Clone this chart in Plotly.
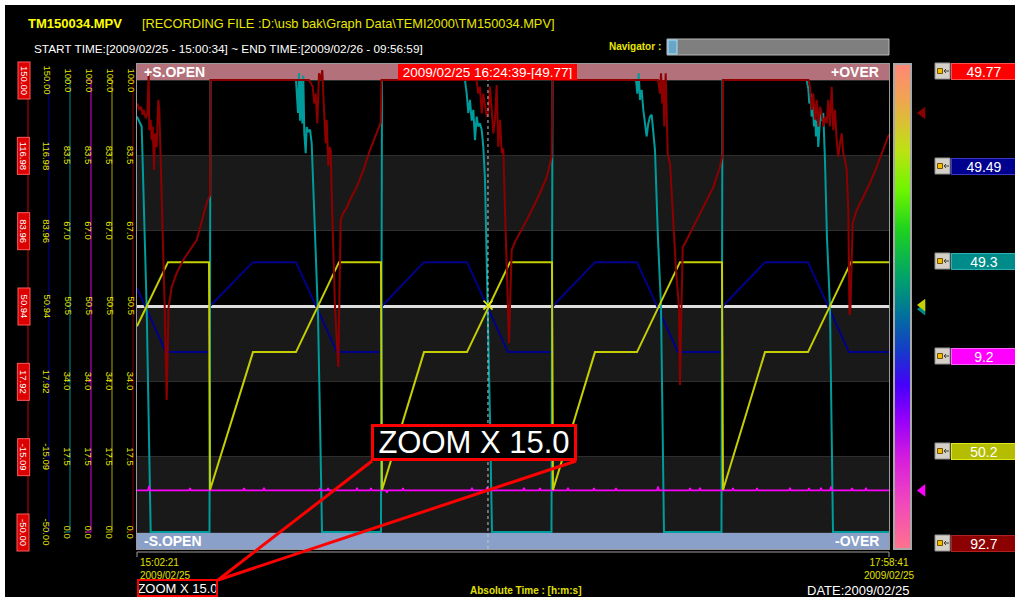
import plotly.graph_objects as go

W, H = 1015, 597


def fx(px):
    return px / W


def fy(py):
    return (H - py) / H


def hms(s):
    h, m, sec = (int(p) for p in s.split(":"))
    return h * 60 + m + sec / 60


# ---------------- meta / labels ----------------
FILE_NAME = "TM150034.MPV"
RECORDING_FILE = r"[RECORDING FILE :D:\usb bak\Graph Data\TEMI2000\TM150034.MPV]"
START_TIME = "2009/02/25 - 15:00:34"
END_TIME = "2009/02/26 - 09:56:59"
VIEW_DATE = "2009/02/25"
VIEW_START = "15:02:21"
VIEW_END = "17:58:41"
CURSOR_TIME = "16:24:39"
ZOOM_FACTOR = 15.0

CH_MIN = [-50, -50, 0, 0, 0, 0]
CH_MAX = [150, 150, 100, 100, 100, 100]
CURSOR_VALUES = [49.77, 49.49, 49.3, 9.2, 50.2, 92.7]

CH1_TICKS = ["150.00", "116.98", "83.96", "50.94", "17.92", "-15.09", "-50.00"]
CH2_TICKS = ["150.00", "116.98", "83.96", "50.94", "17.92", "-15.09", "-50.00"]
PCT_TICKS = ["100.0", "83.5", "67.0", "50.5", "34.0", "17.5", "0.0"]

LEG_COLORS = ["#ff0000", "#00008e", "#008b8b", "#ff00ff", "#b5bd00", "#8b0000"]
LEG_BORDERS = ["#ff5050", "#3a3ac8", "#30b0b0", "#ff60ff", "#e0e820", "#b02020"]
LINE_COLORS = ["#dedede", "#00008c", "#009c9c", "#ff00ff", "#c6cf00", "#8e0000"]
AXIS_COLORS = ["#c80000", "#0000a0", "#009090", "#e000e0", "#a8a800", "#800000"]

# ---------------- series (time in minutes from view start) ----------------
CH1_T = [0, 30, 60, 90, 120, 150, 176.33]
CH1_V = [49.8, 49.75, 49.8, 49.77, 49.8, 49.75, 49.8]

CH2_T = [0, 6.80, 16.88, 17.12, 27.20, 37.28, 46.90, 57.21, 57.45, 67.30, 77.38, 86.99,
         97.31, 97.54, 107.39, 117.24, 126.85, 137.17, 137.41, 147.26, 157.34, 166.95, 176.33]
CH2_V = [57.8, 29.6, 29.6, 50.0, 69.4, 69.4, 29.6, 29.6, 50.0, 69.4, 69.4, 29.6,
         29.6, 50.0, 69.4, 69.4, 29.6, 29.6, 50.0, 69.4, 69.4, 29.6, 29.6]

CH3_T = [0, 1.10, 2.27, 3.21, 17.00, 17.23,
         37.28, 37.52, 37.75, 37.99, 38.22, 38.45, 38.76, 38.99, 39.23, 39.56, 39.79, 40.17,
         40.57, 40.96, 41.50, 42.44, 42.91, 43.38,
         57.21, 57.45,
         76.91, 77.31, 77.68, 78.08, 78.48, 78.86, 79.25, 79.65, 80.03, 80.43, 80.82, 81.20,
         81.60, 82.30, 82.77, 83.24,
         97.19, 97.43,
         117.01, 117.31, 117.64, 117.94, 118.34, 118.72, 119.12, 119.51, 119.89, 120.29,
         120.69, 121.06, 121.46, 122.16, 122.87, 123.22, 123.57,
         137.05, 137.29,
         157.03, 157.41, 157.64, 157.97, 158.20, 158.44, 158.74, 158.98, 159.21, 159.52,
         159.75, 159.99, 160.31, 160.55, 160.92, 161.32, 161.79, 162.49, 162.85, 163.20,
         176.33]
CH3_V = [91.9, 89.7, 49.5, 0, 0, 100,
         100, 96, 92.7, 101.5, 91, 100, 90.4, 101, 88.3, 83.8, 89.6, 88.5,
         89, 86, 72, 48, 25, 0,
         0, 100,
         100, 97, 92.7, 95.6, 91, 93.4, 86.7, 91.9, 89.7, 90.4, 89, 85.2,
         78, 49.3, 25, 0,
         0, 100,
         100, 97, 101.5, 95.6, 97.8, 93.4, 89.7, 87.5, 90.4, 91.9,
         92.3, 88.3, 84.5, 65, 50, 25, 0,
         0, 100,
         100, 98.1, 94.8, 97, 91.9, 95.6, 89.7, 93.4, 87.5, 91,
         85.2, 89.7, 93.4, 91, 92.7, 82.3, 65, 50, 25, 0,
         0]

CH4_T = [0,
         2.58, 2.81, 3.04, 12.20, 12.43, 12.66, 24.86, 25.09, 25.32, 29.55, 29.78, 30.01,
         42.68, 42.91, 43.14, 44.56, 44.79, 45.02, 51.36, 51.59, 51.82, 54.64, 54.87, 55.10,
         58.39, 58.62, 58.85, 62.14, 62.37, 62.60, 78.32, 78.55, 78.78, 81.84, 82.07, 82.30,
         90.51, 90.74, 90.97, 94.27, 94.50, 94.73, 100.83, 101.06, 101.29, 106.93, 107.16, 107.39,
         112.09, 112.32, 112.55, 121.93, 122.16, 122.39, 129.44, 129.67, 129.90, 131.78, 132.01, 132.24,
         139.52, 139.75, 139.98, 145.15, 145.38, 145.61, 152.89, 153.12, 153.35, 157.34, 157.57, 157.80,
         160.15, 160.38, 160.61, 162.50, 162.73, 162.96, 167.42, 167.65, 167.88, 170.71, 170.94, 171.17,
         176.33]
CH4_V = [9.2,
         9.2, 10.2, 9.2, 9.2, 9.7, 9.2, 9.2, 9.7, 9.2, 9.2, 9.8, 9.2,
         9.2, 9.7, 9.2, 9.2, 9.7, 9.2, 9.2, 9.8, 9.2, 9.2, 9.7, 9.2,
         9.2, 8.7, 9.2, 9.2, 9.7, 9.2, 9.2, 9.8, 9.2, 9.2, 9.9, 9.2,
         9.2, 9.8, 9.2, 9.2, 9.7, 9.2, 9.2, 9.8, 9.2, 9.2, 9.7, 9.2,
         9.2, 9.7, 9.2, 9.2, 10.1, 9.2, 9.2, 9.7, 9.2, 9.2, 9.8, 9.2,
         9.2, 9.7, 9.2, 9.2, 9.7, 9.2, 9.2, 9.8, 9.2, 9.2, 9.7, 9.2,
         9.2, 9.8, 9.2, 9.2, 10.1, 9.2, 9.2, 9.7, 9.2, 9.2, 9.8, 9.2,
         9.2]

CH5_T = [0, 7.27, 16.88, 17.12, 27.20, 37.28, 47.37, 57.21, 57.45, 67.30, 77.38, 87.46,
         97.31, 97.54, 107.39, 117.24, 127.32, 137.17, 137.41, 147.26, 157.34, 167.42, 176.33]
CH5_V = [45.5, 59.7, 59.7, 9.3, 39.8, 39.8, 59.7, 59.7, 9.3, 39.8, 39.8, 59.7,
         59.7, 9.3, 39.8, 39.8, 59.7, 59.7, 9.3, 39.8, 39.8, 59.7, 59.7]

CH6_T = [0.07, 0.54, 0.94, 1.34, 1.64, 2.04, 2.42, 2.74, 2.88, 3.21, 3.45, 3.68, 3.99, 4.22,
         4.62, 4.99, 5.23, 5.56, 5.86, 6.17, 6.50, 6.96, 7.39, 8.14, 9.31, 10.86, 14.00, 16.34,
         17.12, 17.23,
         40.33, 40.57, 41.20, 41.57, 41.90, 42.28, 42.68, 43.07, 43.45, 43.85, 44.25, 44.48,
         44.86, 45.09, 45.42, 45.65, 46.03, 46.43, 47.20, 47.48, 47.76, 48.37, 49.17, 49.94,
         51.52, 53.06, 54.63, 56.20, 57.14, 57.33,
         79.49, 79.65, 80.03, 80.43, 80.82, 81.20, 81.60, 82.00, 82.37, 82.77, 83.17, 83.55,
         83.94, 84.34, 84.72, 85.12, 85.52, 85.89, 86.29, 86.69, 87.06, 87.23, 87.46, 87.86,
         88.63, 89.81, 91.38, 92.93, 94.50, 96.07, 97.24, 97.43,
         122.16, 122.24, 122.63, 122.87, 123.17, 123.41, 123.64, 123.97, 124.20, 124.44,
         124.74, 124.98, 125.68, 126.38, 127.09, 127.32, 127.67, 127.96, 128.89, 130.44,
         132.01, 133.58, 135.13, 136.70, 137.29, 137.41,
         157.45, 157.80, 158.20, 158.58, 158.98, 159.37, 159.75, 160.15, 160.55, 160.92,
         161.32, 161.72, 162.10, 162.49, 162.89, 163.27, 163.67, 164.07, 164.44, 164.84,
         165.24, 165.61, 166.01, 166.41, 166.79, 167.07, 167.30, 167.82, 168.76, 170.30,
         171.87, 173.44, 174.99, 176.33]
CH6_V = [94.8, 93.4, 94.1, 92.3, 93.4, 91.5, 92.6, 101.1, 88.9, 91.2, 86.7, 89.7, 80.1, 88.2,
         85.2, 95.6, 93.4, 82.3, 69, 58.7, 49.6, 29.2, 49.6, 54.2, 57.3, 60.2, 64.6, 72.8,
         74.6, 100,
         100, 99.6, 98.5, 94.8, 97, 90.4, 101.5, 100, 102.2, 93.4, 86, 91.2,
         81, 85.2, 84.5, 75, 63.1, 49.6, 36.5, 49.6, 69, 70.6, 71.7, 73.5,
         76.3, 80, 84.5, 88.3, 90.5, 100,
         100, 99.6, 97, 98.5, 92.6, 97, 94.8, 91.9, 93, 98.5, 93.4, 88.2,
         91.2, 98.9, 85.2, 91.2, 83.8, 84.9, 71.2, 60.2, 49.6, 41.8, 49.6, 62.4,
         64.2, 66.2, 69, 71.9, 75, 78.5, 83, 100,
         100, 99.6, 97, 101.5, 94.8, 100, 89.7, 101.5, 93.4, 83.8,
         82.3, 81.6, 70, 58, 49.6, 32.5, 49.6, 63, 64.6, 67.5,
         70.6, 73.5, 76.3, 80.8, 83.4, 100,
         100, 98.5, 93.4, 97, 91.2, 95.6, 89.7, 94.1, 92.6, 89.7,
         91.9, 90.4, 95.6, 89.7, 98.5, 88.9, 93.4, 86.7, 83, 86,
         88.2, 83.8, 82.3, 80.1, 71.2, 48, 49.6, 68.4, 71.2, 74.1,
         77.2, 80.8, 84.5, 88]

SERIES = [(CH1_T, CH1_V), (CH2_T, CH2_V), (CH3_T, CH3_V),
          (CH4_T, CH4_V), (CH5_T, CH5_V), (CH6_T, CH6_V)]

COLORBAR_SCALE = [[0.0, "rgb(255,115,140)"], [0.10, "rgb(240,70,190)"], [0.184, "rgb(215,30,220)"],
                  [0.266, "rgb(150,0,250)"], [0.338, "rgb(70,0,250)"], [0.41, "rgb(20,60,200)"],
                  [0.493, "rgb(0,120,150)"], [0.555, "rgb(0,160,110)"], [0.658, "rgb(30,210,30)"],
                  [0.74, "rgb(110,245,0)"], [0.823, "rgb(190,225,20)"], [0.926, "rgb(240,165,80)"],
                  [1.0, "rgb(255,135,120)"]]


def pct(v, i):
    return (v - CH_MIN[i]) / (CH_MAX[i] - CH_MIN[i]) * 100


WINDOW = hms(VIEW_END) - hms(VIEW_START)
CURSOR = hms(CURSOR_TIME) - hms(VIEW_START)
Y_LO, Y_HI = -3.76, 103.54

fig = go.Figure()

widths = [3, 2, 2, 1.6, 2, 2]
for i, (t, v) in enumerate(SERIES):
    fig.add_trace(go.Scatter(x=t, y=[pct(a, i) for a in v], mode="lines",
                             line=dict(color=LINE_COLORS[i], width=widths[i]),
                             hoverinfo="skip", name=f"CH{i+1}"))

# cursor crosshair marker on CH5
fig.add_trace(go.Scatter(x=[CURSOR], y=[pct(CURSOR_VALUES[4], 4)], mode="markers",
                         marker=dict(symbol="x-thin", size=9, line=dict(color="#e8f000", width=1.5)),
                         hoverinfo="skip"))

# cursor value triangles beside the colour bar
for i in [2, 3, 5, 4]:
    fig.add_trace(go.Scatter(x=[0.5], y=[pct(CURSOR_VALUES[i], i)], mode="markers",
                             xaxis="x2", yaxis="y2",
                             marker=dict(symbol="triangle-left", size=11,
                                         color=LEG_COLORS[i] if i != 4 else "#c8d000",
                                         line=dict(width=0)),
                             hoverinfo="skip"))

# colour bar
fig.add_trace(go.Scatter(x=[None, None], y=[None, None], mode="markers", xaxis="x2", yaxis="y2",
                         marker=dict(color=[0, 1], cmin=0, cmax=1, colorscale=COLORBAR_SCALE, showscale=True,
                                     colorbar=dict(x=fx(894), xanchor="left", y=fy(306.5), yanchor="middle",
                                                   len=485, lenmode="pixels", thickness=17, thicknessmode="pixels",
                                                   outlinecolor="#a8a8a8", outlinewidth=2, showticklabels=False,
                                                   ticks="", xpad=0, ypad=0, borderwidth=0,
                                                   bgcolor="rgba(0,0,0,0)")),
                         hoverinfo="skip"))

shapes = []
annotations = []

# black panel (white strip at top/left edges)
shapes.append(dict(type="rect", xref="paper", yref="paper", x0=fx(5), x1=1.01, y0=-0.01, y1=fy(5),
                   fillcolor="black", line=dict(width=0), layer="below"))

# alternating grid bands
for k in [0, 2, 4]:
    shapes.append(dict(type="rect", xref="x domain", yref="y", x0=0, x1=1, y0=k * 100 / 6, y1=(k + 1) * 100 / 6,
                       fillcolor="#191919", line=dict(width=0), layer="below"))
# over / open bands
shapes.append(dict(type="rect", xref="x domain", yref="y", x0=0, x1=1, y0=100, y1=Y_HI,
                   fillcolor="#b3717b", line=dict(width=0), layer="below"))
shapes.append(dict(type="rect", xref="x domain", yref="y", x0=0, x1=1, y0=Y_LO, y1=0,
                   fillcolor="#8aa0c8", line=dict(width=0), layer="below"))

# cursor line
shapes.append(dict(type="line", xref="x", yref="y domain", x0=CURSOR, x1=CURSOR, y0=0, y1=1,
                   line=dict(color="#c8c8c8", width=1, dash="dot"), layer="above"))

# left axes
AXIS_LINE_X = [28, 49, 70, 91, 112, 133]
AXIS_TEXT_X = [17, 39, 60, 81, 102, 123]
AXIS_TICKS = [CH1_TICKS, CH2_TICKS, PCT_TICKS, PCT_TICKS, PCT_TICKS, PCT_TICKS]
for c in range(6):
    lx = AXIS_LINE_X[c]
    col = AXIS_COLORS[c]
    shapes.append(dict(type="line", xref="paper", yref="y", x0=fx(lx), x1=fx(lx), y0=0, y1=100,
                       line=dict(color=col, width=1)))
    for yv in (0, 100):
        shapes.append(dict(type="line", xref="paper", yref="y", x0=fx(lx - 5), x1=fx(lx), y0=yv, y1=yv,
                           line=dict(color=col, width=1)))
    for k in range(1, 6):
        yv = k * 100 / 6
        shapes.append(dict(type="line", xref="paper", yref="y", x0=fx(lx - 3), x1=fx(lx), y0=yv, y1=yv,
                           line=dict(color=col, width=1)))
    for k, lab in enumerate(AXIS_TICKS[c]):
        yv = 100 - k * 100 / 6
        if c == 0:
            annotations.append(dict(xref="paper", yref="y", x=fx(AXIS_TEXT_X[c]), y=yv, text=lab,
                                    textangle=90, showarrow=False, bgcolor="#dc0000",
                                    bordercolor="#ff5a5a", borderwidth=1, borderpad=0, width=36, height=11,
                                    font=dict(color="white", size=9.5)))
        else:
            annotations.append(dict(xref="paper", yref="y", x=fx(AXIS_TEXT_X[c]), y=yv, text=lab,
                                    textangle=90, showarrow=False,
                                    font=dict(color="#e8e800", size=9.5)))

# band texts
for txt, yv, xa, xp in [("+S.OPEN", (100 + Y_HI) / 2, "left", 142), ("+OVER", (100 + Y_HI) / 2, "right", 881),
                        ("-S.OPEN", Y_LO / 2, "left", 142), ("-OVER", Y_LO / 2, "right", 881)]:
    annotations.append(dict(xref="paper", yref="y", x=fx(xp), y=yv, xanchor=xa, yanchor="middle",
                            text=f"<b>{txt}</b>", showarrow=False, font=dict(color="white", size=14)))

# cursor label
annotations.append(dict(xref="x", yref="y", x=CURSOR, y=(100 + Y_HI) / 2, yanchor="middle",
                        text=f"{VIEW_DATE} {CURSOR_TIME}-[{CURSOR_VALUES[0]}]", showarrow=False,
                        bgcolor="#ff0000", bordercolor="#ff0000", borderwidth=1, borderpad=0,
                        width=177, height=14, font=dict(color="white", size=13.5)))

# header
annotations.append(dict(xref="paper", yref="paper", x=fx(26), y=fy(24), xanchor="left", yanchor="middle",
                        text=f"<b>{FILE_NAME}</b>", showarrow=False,
                        font=dict(color="#ffff00", size=13, family="Liberation Sans Narrow, Liberation Sans")))
annotations.append(dict(xref="paper", yref="paper", x=fx(140), y=fy(24), xanchor="left", yanchor="middle",
                        text=RECORDING_FILE, showarrow=False, font=dict(color="#e8e800", size=12.8)))
annotations.append(dict(xref="paper", yref="paper", x=fx(32), y=fy(49), xanchor="left", yanchor="middle",
                        text=f"START TIME:[{START_TIME}] ~ END TIME:[{END_TIME}]", showarrow=False,
                        font=dict(color="white", size=11.8)))
annotations.append(dict(xref="paper", yref="paper", x=fx(663), y=fy(47), xanchor="right", yanchor="middle",
                        text="<b>Navigator :</b>", showarrow=False, font=dict(color="#e8e800", size=10)))
shapes.append(dict(type="rect", xref="paper", yref="paper", x0=fx(667), x1=fx(889), y0=fy(55), y1=fy(39),
                   fillcolor="#7f7f7f", line=dict(color="#b8b8b8", width=1)))
shapes.append(dict(type="rect", xref="paper", yref="paper", x0=fx(668), x1=fx(677), y0=fy(54), y1=fy(40),
                   fillcolor="#6aa6c8", line=dict(color="#a8e0f8", width=1)))

# bottom time axis
shapes.append(dict(type="line", xref="paper", yref="paper", x0=fx(137), x1=fx(889), y0=fy(552), y1=fy(552),
                   line=dict(color="#a0a0a0", width=1)))
for xp in (137, 889):
    shapes.append(dict(type="line", xref="paper", yref="paper", x0=fx(xp), x1=fx(xp), y0=fy(552), y1=fy(557),
                       line=dict(color="#a0a0a0", width=1)))
annotations.append(dict(xref="paper", yref="paper", x=fx(138), y=fy(568.5), xanchor="left", yanchor="middle",
                        text=f"{VIEW_START}<br>{VIEW_DATE}", align="left", showarrow=False,
                        font=dict(color="#e0e000", size=10)))
annotations.append(dict(xref="paper", yref="paper", x=fx(889), y=fy(568.5), xanchor="center", yanchor="middle",
                        text=f"{VIEW_END}<br>{VIEW_DATE}", align="center", showarrow=False,
                        font=dict(color="#e0e000", size=10)))
annotations.append(dict(xref="paper", yref="paper", x=fx(525), y=fy(590), xanchor="center", yanchor="middle",
                        text="<b>Absolute Time : [h:m:s]</b>", showarrow=False,
                        font=dict(color="#e0e000", size=10)))
annotations.append(dict(xref="paper", yref="paper", x=fx(911), y=fy(590), xanchor="right", yanchor="middle",
                        text=f"DATE:{VIEW_DATE}", showarrow=False, font=dict(color="white", size=13)))

# right value readouts
LEG_Y = [71, 166, 261, 356, 451, 543]
for i, cy in enumerate(LEG_Y):
    annotations.append(dict(xref="paper", yref="paper", x=fx(951), y=fy(cy), xanchor="left", yanchor="middle",
                            text=f"{CURSOR_VALUES[i]}", showarrow=False, bgcolor=LEG_COLORS[i],
                            bordercolor=LEG_BORDERS[i], borderwidth=1, borderpad=0, width=64, height=15,
                            font=dict(color="white", size=14)))
    shapes.append(dict(type="rect", xref="paper", yref="paper", x0=fx(935), x1=fx(950), y0=fy(cy + 8),
                       y1=fy(cy - 8), fillcolor="#d4d0c8", line=dict(color="#909090", width=1)))
    shapes.append(dict(type="rect", xref="paper", yref="paper", x0=fx(937.5), x1=fx(942.5), y0=fy(cy + 2.5),
                       y1=fy(cy - 2.5), fillcolor="#f0c000", line=dict(color="#705000", width=1)))
    shapes.append(dict(type="path", xref="paper", yref="paper",
                       path=(f"M{fx(944)},{fy(cy)} L{fx(949)},{fy(cy)} "
                             f"M{fx(946)},{fy(cy - 2)} L{fx(944)},{fy(cy)} L{fx(946)},{fy(cy + 2)}"),
                       line=dict(color="#404040", width=1)))

# zoom callout
shapes.append(dict(type="line", xref="paper", yref="paper", x0=fx(218), y0=fy(580), x1=fx(372), y1=fy(461),
                   line=dict(color="#ff0000", width=3)))
shapes.append(dict(type="line", xref="paper", yref="paper", x0=fx(218), y0=fy(580), x1=fx(576), y1=fy(461),
                   line=dict(color="#ff0000", width=3)))
annotations.append(dict(xref="paper", yref="paper", x=fx(474), y=fy(442.5), xanchor="center", yanchor="middle",
                        text=f"ZOOM X {ZOOM_FACTOR}", showarrow=False, bgcolor="black", bordercolor="#ff0000",
                        borderwidth=3, borderpad=0, width=200, height=31,
                        font=dict(color="white", size=31)))
annotations.append(dict(xref="paper", yref="paper", x=fx(177.5), y=fy(588), xanchor="center", yanchor="middle",
                        text=f"ZOOM X {ZOOM_FACTOR}", showarrow=False, bgcolor="black", bordercolor="#ff0000",
                        borderwidth=2, borderpad=0, width=77, height=14,
                        font=dict(color="white", size=13)))

fig.update_layout(
    width=W, height=H,
    margin=dict(l=0, r=0, t=0, b=0, autoexpand=False),
    paper_bgcolor="white", plot_bgcolor="black",
    showlegend=False,
    font=dict(family="Liberation Sans, Arial, sans-serif"),
    xaxis=dict(domain=[fx(137), fx(889)], range=[0, WINDOW], showgrid=False, zeroline=False,
               showticklabels=False, ticks="", showline=True, mirror=True, linecolor="#9a9a9a", linewidth=1),
    yaxis=dict(domain=[fy(549), fy(64)], range=[Y_LO, Y_HI], tickvals=[k * 100 / 6 for k in range(7)],
               showticklabels=False, ticks="", gridcolor="#2e2e2e", gridwidth=1, zeroline=False,
               showline=True, mirror=True, linecolor="#9a9a9a", linewidth=1),
    xaxis2=dict(domain=[fx(915), fx(930)], range=[0, 1], anchor="y2", visible=False),
    yaxis2=dict(domain=[fy(549), fy(64)], range=[Y_LO, Y_HI], anchor="x2", visible=False, showgrid=False),
    shapes=shapes,
    annotations=annotations,
)

fig.write_html("out.html", config={"displayModeBar": False},
               post_script="document.body.style.margin='0px';document.body.style.overflow='hidden';")
